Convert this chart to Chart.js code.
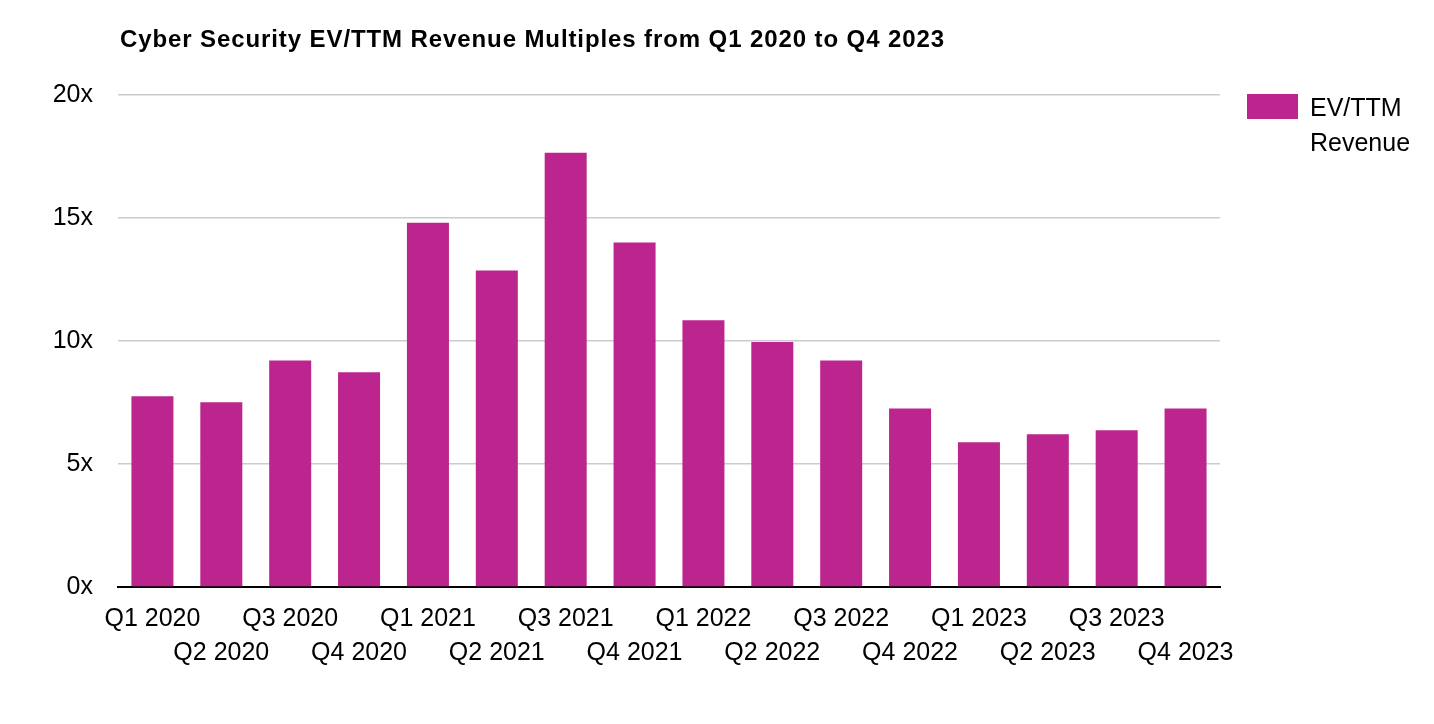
<!DOCTYPE html>
<html>
<head>
<meta charset="utf-8">
<script src="https://cdn.jsdelivr.net/npm/chart.js@4"></script>
<style>
  html, body { margin: 0; padding: 0; background: #fff; }
  #wrap { position: relative; width: 1434px; height: 724px; font-family: "Liberation Sans", Arial, Helvetica, sans-serif; }
  #title { position: absolute; left: 120px; top: 25px; font-size: 24px; letter-spacing: 0.9px; font-weight: bold; color: #000; white-space: nowrap; }
  #legend { position: absolute; left: 1247px; top: 94px; display: flex; align-items: flex-start; }
  .swatch { width: 51px; height: 25px; background: #bd258e; }
  .legtext { margin-left: 12px; font-size: 25px; line-height: 35px; margin-top: -4px; color: #000; }
  canvas { position: absolute; left: 0; top: 0; }
</style>
</head>
<body>
<div id="wrap">
  <canvas id="myChart" width="1434" height="724"></canvas>
  <div id="title">Cyber Security EV/TTM Revenue Multiples from Q1 2020 to Q4 2023</div>
  <div id="legend"><div class="swatch"></div><div class="legtext">EV/TTM<br>Revenue</div></div>
</div>
<script>
const quarters = ['Q1 2020', 'Q2 2020', 'Q3 2020', 'Q4 2020',
                  'Q1 2021', 'Q2 2021', 'Q3 2021', 'Q4 2021',
                  'Q1 2022', 'Q2 2022', 'Q3 2022', 'Q4 2022',
                  'Q1 2023', 'Q2 2023', 'Q3 2023', 'Q4 2023'];
const multiples = [7.75, 7.51, 9.21, 8.73, 14.81, 12.87, 17.65, 14.0,
                   10.84, 9.96, 9.21, 7.26, 5.88, 6.21, 6.37, 7.26];
const yMin = 0;
const yMax = 20;
const yStep = 5;

const ctx = document.getElementById('myChart');
const myChart = new Chart(ctx, {
    type: 'bar',
    data: {
        labels: quarters,
        datasets: [{
            label: 'EV/TTM Revenue',
            data: multiples,
            backgroundColor: '#bd258e',
            borderWidth: 0,
            categoryPercentage: 1,
            barPercentage: 0.61
        }]
    },
    options: {
        responsive: false,
        devicePixelRatio: 1,
        animation: false,
        layout: {
            padding: { top: 95, right: 214, left: 0, bottom: 0 }
        },
        plugins: {
            legend: { display: false },
            title: { display: false },
            tooltip: { enabled: false }
        },
        scales: {
            x: {
                grid: { display: false },
                border: { color: '#000', width: 2 },
                ticks: {
                    autoSkip: false,
                    maxRotation: 0,
                    minRotation: 0,
                    padding: 7,
                    color: '#000',
                    font: { family: '"Liberation Sans", Arial, sans-serif', size: 25, lineHeight: 1.36 },
                    callback: function(value, index) {
                        const lbl = quarters[index];
                        return index % 2 === 0 ? [lbl, ''] : ['', lbl];
                    }
                },
                afterFit: function(scale) { scale.height = 137; }
            },
            y: {
                min: yMin,
                max: yMax,
                grid: { color: '#cccccc', lineWidth: 1.5, drawTicks: false },
                border: { display: false },
                ticks: {
                    stepSize: yStep,
                    padding: 25,
                    color: '#000',
                    font: { family: '"Liberation Sans", Arial, sans-serif', size: 25 },
                    callback: function(value) { return value + 'x'; }
                },
                afterFit: function(scale) { scale.width = 118; }
            }
        }
    }
});
</script>
</body>
</html>
